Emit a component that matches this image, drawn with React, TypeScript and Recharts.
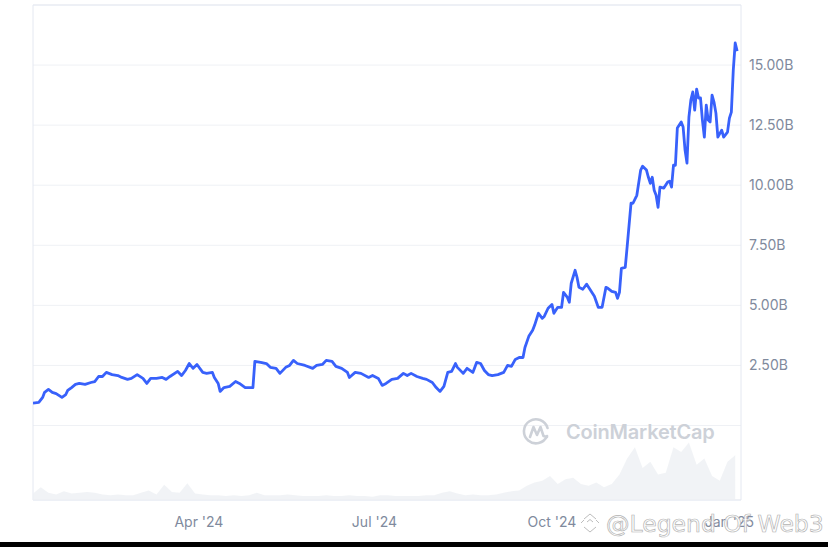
import React from 'react';
import { ComposedChart, Line, Area, XAxis, YAxis, CartesianGrid, ReferenceArea } from 'recharts';

// market cap, billions of USD
const priceDates = [
  '2024-01-06', '2024-01-09', '2024-01-11', '2024-01-12', '2024-01-14', '2024-01-16', '2024-01-18', '2024-01-21',
  '2024-01-23', '2024-01-24', '2024-01-26', '2024-01-28', '2024-01-30', '2024-02-02', '2024-02-05', '2024-02-07',
  '2024-02-09', '2024-02-11', '2024-02-13', '2024-02-16', '2024-02-19', '2024-02-21', '2024-02-24', '2024-02-26',
  '2024-02-29', '2024-03-03', '2024-03-05', '2024-03-07', '2024-03-10', '2024-03-13', '2024-03-15', '2024-03-17',
  '2024-03-21', '2024-03-23', '2024-03-25', '2024-03-27', '2024-03-29', '2024-03-31', '2024-04-03', '2024-04-05',
  '2024-04-08', '2024-04-09', '2024-04-11', '2024-04-12', '2024-04-14', '2024-04-17', '2024-04-20', '2024-04-22',
  '2024-04-25', '2024-04-27', '2024-04-29', '2024-04-30', '2024-05-03', '2024-05-06', '2024-05-08', '2024-05-11',
  '2024-05-13', '2024-05-16', '2024-05-18', '2024-05-20', '2024-05-22', '2024-05-26', '2024-05-30', '2024-06-01',
  '2024-06-04', '2024-06-06', '2024-06-09', '2024-06-11', '2024-06-14', '2024-06-17', '2024-06-18', '2024-06-21',
  '2024-06-24', '2024-06-28', '2024-06-30', '2024-07-03', '2024-07-05', '2024-07-07', '2024-07-10', '2024-07-13',
  '2024-07-16', '2024-07-18', '2024-07-20', '2024-07-23', '2024-07-26', '2024-07-28', '2024-07-31', '2024-08-02',
  '2024-08-04', '2024-08-06', '2024-08-08', '2024-08-10', '2024-08-12', '2024-08-13', '2024-08-16', '2024-08-18',
  '2024-08-21', '2024-08-23', '2024-08-25', '2024-08-27', '2024-08-29', '2024-08-31', '2024-09-03', '2024-09-06',
  '2024-09-08', '2024-09-10', '2024-09-12', '2024-09-14', '2024-09-16', '2024-09-17', '2024-09-19', '2024-09-21',
  '2024-09-22', '2024-09-24', '2024-09-26', '2024-09-27', '2024-09-29', '2024-10-01', '2024-10-02', '2024-10-04',
  '2024-10-06', '2024-10-07', '2024-10-09', '2024-10-10', '2024-10-11', '2024-10-13', '2024-10-14', '2024-10-15',
  '2024-10-17', '2024-10-19', '2024-10-20', '2024-10-22', '2024-10-23', '2024-10-25', '2024-10-27', '2024-10-29',
  '2024-10-30', '2024-11-01', '2024-11-03', '2024-11-04', '2024-11-05', '2024-11-06', '2024-11-08', '2024-11-09',
  '2024-11-11', '2024-11-12', '2024-11-14', '2024-11-16', '2024-11-17', '2024-11-19', '2024-11-20', '2024-11-21',
  '2024-11-22', '2024-11-23', '2024-11-24', '2024-11-25', '2024-11-26', '2024-11-28', '2024-11-30', '2024-12-01',
  '2024-12-02', '2024-12-03', '2024-12-04', '2024-12-05', '2024-12-07', '2024-12-08', '2024-12-09', '2024-12-10',
  '2024-12-11', '2024-12-12', '2024-12-13', '2024-12-14', '2024-12-15', '2024-12-16', '2024-12-17', '2024-12-18',
  '2024-12-19', '2024-12-20', '2024-12-21', '2024-12-22', '2024-12-23', '2024-12-24', '2024-12-25', '2024-12-26',
  '2024-12-28', '2024-12-29', '2024-12-31', '2025-01-01', '2025-01-02', '2025-01-03', '2025-01-04', '2025-01-05',
];
const priceValues = [
  0.93, 0.96, 1.17, 1.38, 1.5, 1.38, 1.33, 1.17,
  1.29, 1.46, 1.58, 1.71, 1.75, 1.71, 1.79, 1.83,
  2.04, 2.04, 2.21, 2.12, 2.08, 2.0, 1.92, 1.96,
  2.12, 1.96, 1.75, 1.96, 1.96, 2.0, 1.92, 2.04,
  2.25, 2.08, 2.29, 2.58, 2.38, 2.54, 2.21, 2.17,
  2.21, 2.0, 1.75, 1.42, 1.58, 1.63, 1.83, 1.75,
  1.58, 1.58, 1.58, 2.67, 2.63, 2.58, 2.42, 2.38,
  2.17, 2.42, 2.5, 2.71, 2.58, 2.5, 2.38, 2.5,
  2.54, 2.71, 2.67, 2.46, 2.38, 2.21, 2.0, 2.21,
  2.17, 2.0, 2.08, 1.96, 1.67, 1.75, 1.92, 1.96,
  2.17, 2.08, 2.17, 2.04, 1.96, 1.92, 1.79, 1.58,
  1.42, 1.63, 2.21, 2.25, 2.58, 2.42, 2.17, 2.38,
  2.21, 2.63, 2.58, 2.29, 2.12, 2.08, 2.12, 2.21,
  2.5, 2.46, 2.75, 2.83, 2.83, 3.25, 3.71, 3.96,
  4.17, 4.67, 4.46, 4.54, 4.88, 5.04, 4.67, 4.92,
  4.92, 5.54, 5.33, 5.13, 5.92, 6.46, 6.17, 5.75,
  5.67, 5.88, 5.75, 5.5, 5.38, 4.92, 4.92, 5.75,
  5.71, 5.58, 5.54, 5.29, 5.54, 6.54, 6.58, 7.45,
  9.25, 9.25, 9.58, 10.63, 10.79, 10.63, 10.33, 10.08,
  10.33, 9.79, 9.58, 9.08, 9.92, 9.88, 10.13, 10.17,
  9.92, 10.83, 10.83, 12.38, 12.63, 12.42, 11.46, 10.92,
  12.83, 13.54, 13.88, 13.13, 14.0, 13.63, 13.63, 12.71,
  12.0, 13.33, 12.71, 12.63, 13.75, 13.46, 13.0, 12.0,
  12.29, 12.0, 12.21, 12.79, 13.04, 14.79, 15.92, 15.58,
];

// trading volume, billions of USD
const volumeDates = [
  '2024-01-06', '2024-01-10', '2024-01-14', '2024-01-18', '2024-01-22', '2024-01-26', '2024-01-30', '2024-02-03',
  '2024-02-07', '2024-02-11', '2024-02-15', '2024-02-19', '2024-02-23', '2024-02-27', '2024-03-02', '2024-03-06',
  '2024-03-10', '2024-03-14', '2024-03-18', '2024-03-22', '2024-03-26', '2024-03-30', '2024-04-03', '2024-04-07',
  '2024-04-11', '2024-04-15', '2024-04-19', '2024-04-23', '2024-04-27', '2024-05-01', '2024-05-05', '2024-05-09',
  '2024-05-13', '2024-05-17', '2024-05-21', '2024-05-25', '2024-05-29', '2024-06-02', '2024-06-06', '2024-06-10',
  '2024-06-14', '2024-06-18', '2024-06-22', '2024-06-26', '2024-06-30', '2024-07-04', '2024-07-08', '2024-07-12',
  '2024-07-16', '2024-07-20', '2024-07-24', '2024-07-28', '2024-08-01', '2024-08-05', '2024-08-09', '2024-08-13',
  '2024-08-17', '2024-08-21', '2024-08-25', '2024-08-29', '2024-09-02', '2024-09-06', '2024-09-10', '2024-09-14',
  '2024-09-18', '2024-09-22', '2024-09-26', '2024-09-30', '2024-10-04', '2024-10-08', '2024-10-12', '2024-10-16',
  '2024-10-20', '2024-10-24', '2024-10-28', '2024-11-01', '2024-11-05', '2024-11-09', '2024-11-13', '2024-11-17',
  '2024-11-21', '2024-11-25', '2024-11-29', '2024-12-03', '2024-12-07', '2024-12-11', '2024-12-15', '2024-12-19',
  '2024-12-23', '2024-12-27', '2024-12-31', '2025-01-04',
];
const volumeValues = [
  0.4, 0.8, 0.45, 0.35, 0.55, 0.4, 0.45, 0.5,
  0.45, 0.35, 0.3, 0.35, 0.3, 0.3, 0.45, 0.6,
  0.35, 0.95, 0.5, 0.45, 1.05, 0.4, 0.35, 0.3,
  0.3, 0.25, 0.3, 0.25, 0.3, 0.45, 0.3, 0.3,
  0.3, 0.35, 0.3, 0.25, 0.25, 0.25, 0.3, 0.25,
  0.25, 0.3, 0.25, 0.25, 0.2, 0.3, 0.3, 0.25,
  0.25, 0.25, 0.25, 0.3, 0.3, 0.45, 0.55, 0.4,
  0.3, 0.35, 0.3, 0.3, 0.35, 0.45, 0.55, 0.6,
  0.9, 1.1, 1.2, 1.5, 1.0, 1.3, 1.4, 1.0,
  0.9, 1.1, 0.8, 1.0, 1.6, 2.6, 3.3, 2.0,
  2.4, 1.6, 1.7, 3.3, 3.0, 3.6, 2.2, 2.6,
  1.5, 1.2, 2.4, 2.8,
];

const priceTicks = [0, 2.5, 5, 7.5, 10, 12.5, 15];
const monthTickDates = ['2024-04-01', '2024-07-01', '2024-10-01', '2025-01-01'];
const monthTickLabels = ["Apr '24", "Jul '24", "Oct '24", "Jan '25"];

const rangeStart = Date.parse('2024-01-06');
const rangeEnd = Date.parse('2025-01-07');
const priceDomain: [number, number] = [-3.1, 17.5];

const priceData = priceDates.map((d, i) => ({ t: Date.parse(d), price: priceValues[i] }));
const volumeData = volumeDates.map((d, i) => ({ t: Date.parse(d), volume: volumeValues[i] }));
const monthTicks = monthTickDates.map((d) => Date.parse(d));

const axisText = { fill: '#808a9d', fontSize: 14, fontFamily: 'Inter, sans-serif' };

export default function App() {
  return (
    <div style={{ position: 'fixed', left: 0, top: 0, width: 828, height: 547, background: '#fff', overflow: 'hidden' }}>
      <ComposedChart width={828} height={547} margin={{ top: 5, right: 27, bottom: 17, left: 33 }}>
        <XAxis
          type="number"
          dataKey="t"
          domain={[rangeStart, rangeEnd]}
          ticks={monthTicks}
          tickFormatter={(v) => monthTickLabels[monthTicks.indexOf(v)] ?? ''}
          axisLine={false}
          tickLine={false}
          tickMargin={11}
          tick={axisText}
          allowDataOverflow
        />
        <YAxis
          yAxisId="price"
          orientation="right"
          domain={priceDomain}
          ticks={priceTicks}
          tickFormatter={(v) => (v === 0 ? '' : `${v.toFixed(2)}B`)}
          axisLine={false}
          tickLine={false}
          width={60}
          tick={axisText}
          allowDataOverflow
        />
        <YAxis yAxisId="vol" hide domain={[0, 31]} allowDataOverflow />
        <CartesianGrid yAxisId="price" vertical={false} stroke="#eff1f5" />
        <ReferenceArea
          yAxisId="price"
          x1={rangeStart}
          x2={rangeEnd}
          y1={priceDomain[0]}
          y2={priceDomain[1]}
          fill="none"
          stroke="#e4e8f1"
        />
        <Area
          yAxisId="vol"
          data={volumeData}
          dataKey="volume"
          type="linear"
          fill="#eef0f4"
          fillOpacity={0.8}
          stroke="none"
          isAnimationActive={false}
        />
        <Line
          yAxisId="price"
          data={priceData}
          dataKey="price"
          type="linear"
          stroke="#3861fb"
          strokeWidth={2.8}
          strokeLinejoin="round"
          dot={false}
          activeDot={false}
          isAnimationActive={false}
        />
      </ComposedChart>

      {/* CoinMarketCap watermark */}
      <svg style={{ position: 'absolute', left: 522, top: 417 }} width={30} height={30} viewBox="0 0 30 30">
        <path d="M25 19 A12 12 0 1 1 25.5 11" fill="none" stroke="#cdd1d8" strokeWidth={2.6} strokeLinecap="round" />
        <path d="M8 20 L11.5 10 L15 18 L18.5 10 L21.5 19 L25 20" fill="none" stroke="#cdd1d8" strokeWidth={2.6} strokeLinejoin="round" strokeLinecap="round" />
      </svg>
      <div
        style={{
          position: 'absolute', left: 566, top: 419, fontFamily: 'Inter, sans-serif', fontSize: 20,
          fontWeight: 600, color: '#cdd1d8', letterSpacing: -0.2, lineHeight: '26px',
        }}
      >
        CoinMarketCap
      </div>

      {/* Binance Square watermark */}
      <svg style={{ position: 'absolute', left: 580, top: 505 }} width={248} height={38}>
        <g fill="none" stroke="#bdbdbd" strokeWidth={1}>
          <path d="M4 14 L10 9 L16 14 M7 17 L10 14.5 L13 17 M4 22 L10 27 L16 22 M1 18 L4 15 M19 18 L16 15" />
        </g>
        <text
          x={26}
          y={27}
          fontFamily="DejaVu Sans, sans-serif"
          fontSize={23.5}
          fill="#ffffff"
          fillOpacity={0.75}
          stroke="#b3b3b3"
          strokeWidth={0.7}
        >
          @Legend Of Web3
        </text>
      </svg>

      <div style={{ position: 'absolute', left: 0, top: 542, width: 828, height: 5, background: '#000' }} />
    </div>
  );
}
